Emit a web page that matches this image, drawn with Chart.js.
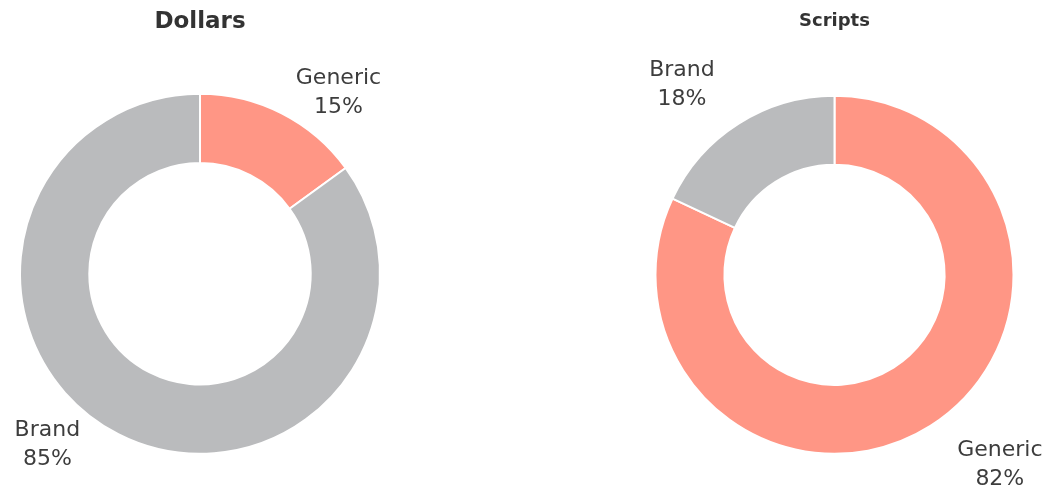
<!DOCTYPE html>
<html><head><meta charset="utf-8">
<script src="https://cdn.jsdelivr.net/npm/chart.js@4.4.0/dist/chart.umd.min.js"></script>
<style>
html,body{margin:0;padding:0;background:#fff;width:1060px;height:492px;overflow:hidden;}
.box{position:absolute;top:0;width:530px;height:492px;}
canvas{display:block;}
</style></head><body>
<div class="box" style="left:0"><canvas id="c1" width="530" height="492"></canvas></div>
<div class="box" style="left:530px"><canvas id="c2" width="530" height="492"></canvas></div>
<script>
const categories = ['Generic', 'Brand'];
const dollarsValues = [15, 85];
const scriptsValues = [82, 18];
const chartTitles = ['Dollars', 'Scripts'];
const sliceColors = ['#FF9685', '#BABBBD'];

Chart.defaults.font.family = "'DejaVu Sans', sans-serif";

const outLabels = {
  id: 'outLabels',
  afterDatasetsDraw(chart, args, opts) {
    const ctx = chart.ctx;
    const meta = chart.getDatasetMeta(0);
    const data = chart.data.datasets[0].data;
    const total = data.reduce((a, b) => a + b, 0);
    ctx.save();
    ctx.font = opts.font;
    ctx.fillStyle = opts.color;
    ctx.textAlign = 'center';
    ctx.textBaseline = 'middle';
    meta.data.forEach((arc, i) => {
      const p = opts.placement[i];
      const mid = (arc.startAngle + arc.endAngle) / 2 + p.turn * Math.PI / 180;
      const x = arc.x + Math.cos(mid) * p.dist;
      const y = arc.y + Math.sin(mid) * p.dist;
      ctx.fillText(chart.data.labels[i], x, y - opts.lineGap / 2);
      ctx.fillText(Math.round(data[i] / total * 100) + '%', x, y + opts.lineGap / 2);
    });
    ctx.restore();
  }
};

function makeChart(id, values, title, titleSize, titlePad, padding, radius, placement) {
  return new Chart(document.getElementById(id), {
    type: 'doughnut',
    data: {
      labels: categories,
      datasets: [{
        data: values,
        backgroundColor: sliceColors,
        borderColor: '#ffffff',
        borderWidth: 2,
        radius: radius,
        cutout: '61.5%'
      }]
    },
    options: {
      responsive: false,
      animation: false,
      layout: { padding: padding },
      plugins: {
        legend: { display: false },
        tooltip: { enabled: false },
        title: {
          display: true,
          text: title,
          color: '#333333',
          font: { size: titleSize, weight: 'bold' },
          padding: titlePad
        },
        outLabels: {
          font: "22px 'DejaVu Sans', sans-serif",
          color: '#3d3d3d',
          lineGap: 29,
          placement: placement
        }
      }
    },
    plugins: [outLabels]
  });
}

makeChart('c1', dollarsValues, chartTitles[0], 23, { top: 8, bottom: 58 },
  { left: 20, right: 150, top: 0, bottom: 38 }, 180,
  [{ turn: 10.4, dist: 228 }, { turn: 14.8, dist: 229 }]);
makeChart('c2', scriptsValues, chartTitles[1], 18, { top: 11, bottom: 62 },
  { left: 123, right: 44, top: 0, bottom: 37 }, 179,
  [{ turn: -8.6, dist: 252 }, { turn: -6.3, dist: 244 }]);
</script>
</body></html>
